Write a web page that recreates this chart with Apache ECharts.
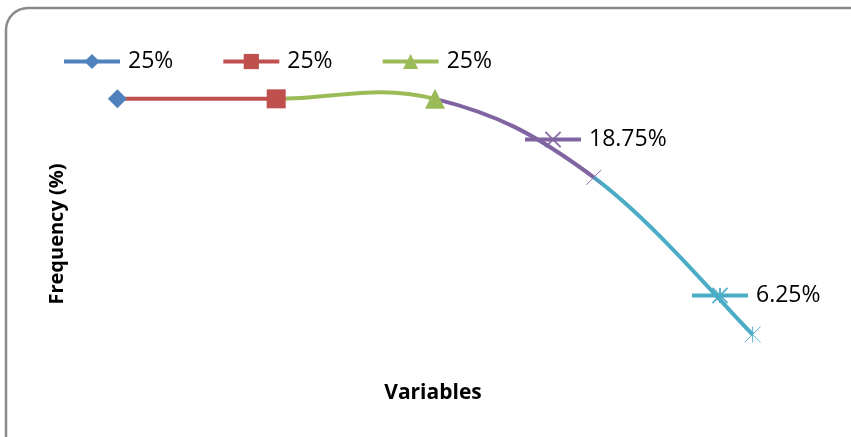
<!DOCTYPE html>
<html>
<head>
<meta charset="utf-8">
<script src="https://cdn.jsdelivr.net/npm/echarts@6/dist/echarts.min.js"></script>
<style>
  html, body { margin: 0; padding: 0; background: #fff; }
  #chart { width: 851px; height: 437px; }
</style>
</head>
<body>
<div id="chart"></div>
<script>
// Variables along the x axis and their frequencies (%)
const categories = ['V1', 'V2', 'V3', 'V4', 'V5'];
const frequencies = [25, 25, 25, 18.75, 6.25];
const pointLabels = ['25%', '25%', '25%', '18.75%', '6.25%'];
const seriesNames = ['s1', 's2', 's3', 's4', 's5'];

// Office-style palette, one colour per point
const colors = ['#4F81BD', '#C0504D', '#9BBB59', '#8064A2', '#4BACC6'];

// Marker shapes: diamond, square, triangle, cross, asterisk
const symbols = [
  'diamond',
  'rect',
  'triangle',
  'path://M0,0L10,10M10,0L0,10',
  'path://M0,0L10,10M10,0L0,10M5,0L5,10'
];
const symbolSizes = [19, 19, 20, 15, 16];

// Tension of the spline that joins consecutive points
const TENSION = 0.19;

const chart = echarts.init(document.getElementById('chart'), null, { renderer: 'canvas' });

// One marker series per point (also feeds the legends)
const pointSeries = frequencies.map((v, i) => {
  const lineSymbol = i >= 3;
  return {
    name: seriesNames[i],
    type: 'line',
    data: frequencies.map((f, j) => (j === i ? f : '-')),
    symbol: symbols[i],
    symbolSize: symbolSizes[i],
    symbolKeepAspect: true,
    showAllSymbol: true,
    z: 5,
    lineStyle: { color: colors[i], width: 4 },
    itemStyle: lineSymbol
      ? { color: colors[i], borderColor: colors[i], borderWidth: 1, opacity: 0.9 }
      : { color: colors[i], borderWidth: 0 },
    silent: true,
    animation: false
  };
});

// Smoothed connecting curve: segment i runs from point i to point i+1,
// drawn as a cubic Bezier with Catmull-Rom style tangents.
const curve = {
  name: 'curve',
  type: 'custom',
  coordinateSystem: 'cartesian2d',
  data: frequencies.map((f, i) => [i, f]),
  encode: { x: 0, y: 1 },
  z: 2,
  silent: true,
  animation: false,
  renderItem: function (params, api) {
    const i = params.dataIndex;
    const n = frequencies.length;
    if (i >= n - 1) return null;
    const pt = j => {
      const k = Math.max(0, Math.min(n - 1, j));
      return api.coord([k, frequencies[k]]);
    };
    const p0 = pt(i - 1), p1 = pt(i), p2 = pt(i + 1), p3 = pt(i + 2);
    return {
      type: 'bezierCurve',
      shape: {
        x1: p1[0], y1: p1[1],
        x2: p2[0], y2: p2[1],
        cpx1: p1[0] + (p2[0] - p0[0]) * TENSION,
        cpy1: p1[1] + (p2[1] - p0[1]) * TENSION,
        cpx2: p2[0] - (p3[0] - p1[0]) * TENSION,
        cpy2: p2[1] - (p3[1] - p1[1]) * TENSION
      },
      style: {
        fill: 'none',
        stroke: colors[i + 1],
        lineWidth: 4,
        lineCap: 'butt'
      }
    };
  }
};

const legendText = {
  fontFamily: 'Open Sans',
  fontSize: 23,
  color: '#000',
  padding: [0, 0, 0, 3]
};
const legendBase = {
  orient: 'horizontal',
  itemWidth: 56,
  itemHeight: 19,
  itemGap: 48,
  padding: 0,
  selectedMode: false,
  lineStyle: { width: 4 },
  textStyle: legendText,
  formatter: name => pointLabels[seriesNames.indexOf(name)]
};

chart.setOption({
  animation: false,
  backgroundColor: '#fff',
  grid: { left: 38, right: 19, top: 36, bottom: 24 },
  xAxis: {
    type: 'category',
    data: categories,
    boundaryGap: true,
    show: false
  },
  yAxis: {
    type: 'value',
    min: 0,
    max: 30,
    show: false
  },
  legend: [
    Object.assign({}, legendBase, { data: seriesNames.slice(0, 3), left: 62, top: 50 }),
    Object.assign({}, legendBase, { data: [seriesNames[3]], left: 523, top: 128 }),
    Object.assign({}, legendBase, { data: [seriesNames[4]], left: 690, top: 284 })
  ],
  graphic: [
    {
      type: 'rect',
      shape: { x: 6, y: 8, width: 880, height: 460, r: 22 },
      style: { fill: 'none', stroke: '#8a8a8a', lineWidth: 2.5 },
      silent: true,
      z: 0
    },
    {
      type: 'text',
      x: 57,
      y: 234,
      rotation: Math.PI / 2,
      style: {
        text: 'Frequency (%)',
        fontFamily: 'Open Sans',
        fontWeight: 'bold',
        fontSize: 20,
        fill: '#000',
        align: 'center',
        verticalAlign: 'middle'
      },
      silent: true
    },
    {
      type: 'text',
      x: 433,
      y: 393,
      style: {
        text: 'Variables',
        fontFamily: 'Open Sans',
        fontWeight: 'bold',
        fontSize: 21,
        fill: '#000',
        align: 'center',
        verticalAlign: 'middle'
      },
      silent: true
    }
  ],
  series: pointSeries.concat([curve])
});
</script>
</body>
</html>
